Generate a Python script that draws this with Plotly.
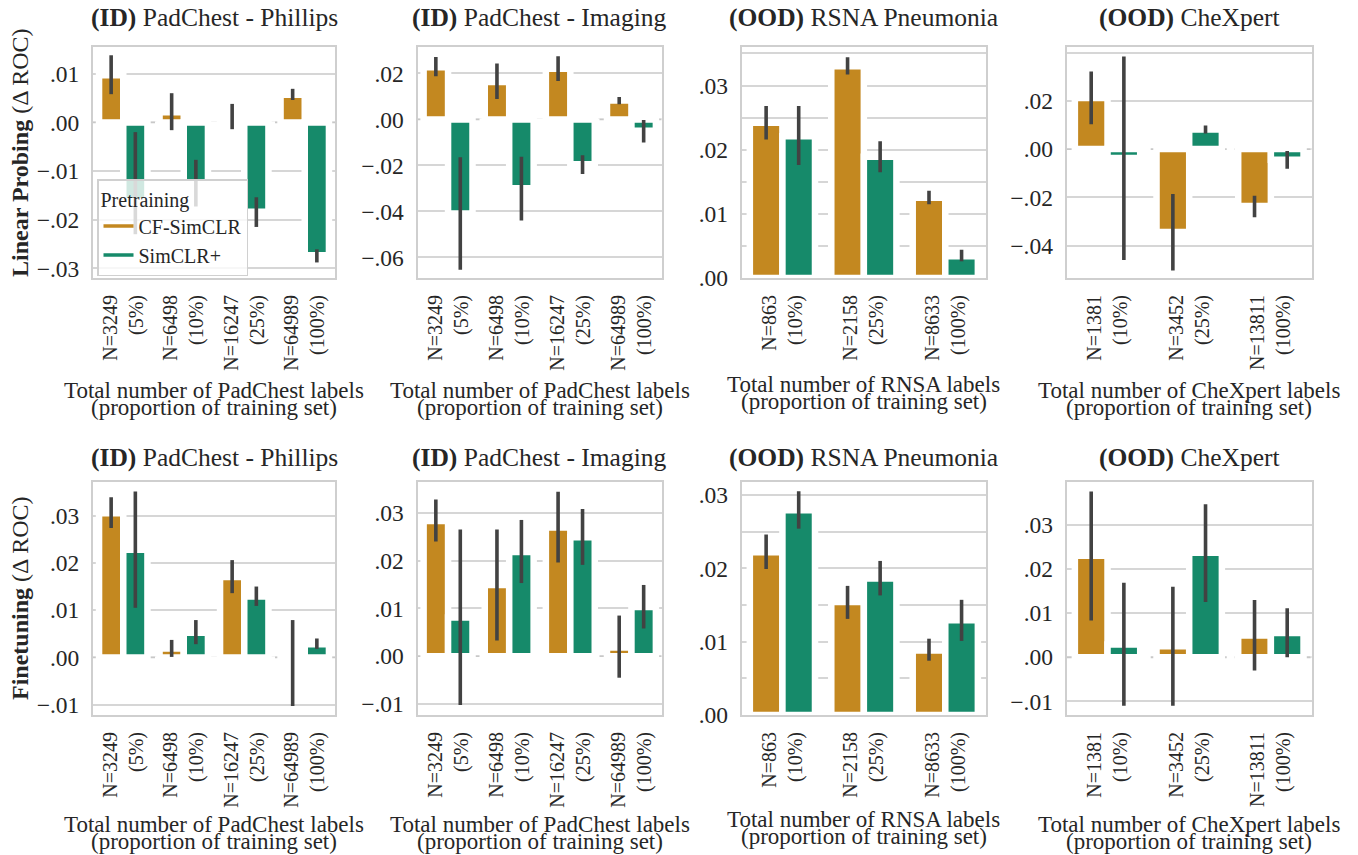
import plotly.graph_objects as go
from plotly.subplots import make_subplots

# ---- categories (x tick labels) ----
padchest_cats = ["N=3249<br>(5%)", "N=6498<br>(10%)", "N=16247<br>(25%)", "N=64989<br>(100%)"]
rsna_cats = ["N=863<br>(10%)", "N=2158<br>(25%)", "N=8633<br>(100%)"]
chexpert_cats = ["N=1381<br>(10%)", "N=3452<br>(25%)", "N=13811<br>(100%)"]

# ---- Linear probing: delta ROC (mean, CI high, CI low) ----
lp_phillips_cf = [0.0097, 0.0021, 0.0008, 0.0057]
lp_phillips_cf_hi = [0.0138, 0.0060, 0.0038, 0.0069]
lp_phillips_cf_lo = [0.0058, -0.0016, -0.0014, 0.0046]
lp_phillips_sim = [-0.0162, -0.0125, -0.0184, -0.0273]
lp_phillips_sim_hi = [-0.0020, -0.0077, -0.0154, -0.0261]
lp_phillips_sim_lo = [-0.0230, -0.0173, -0.0215, -0.0288]

lp_imaging_cf = [0.0227, 0.0163, 0.0220, 0.0082]
lp_imaging_cf_hi = [0.0272, 0.0243, 0.0275, 0.0098]
lp_imaging_cf_lo = [0.0188, 0.0089, 0.0167, 0.0066]
lp_imaging_sim = [-0.0409, -0.0299, -0.0195, -0.0049]
lp_imaging_sim_hi = [-0.0165, -0.0162, -0.0156, -0.0003]
lp_imaging_sim_lo = [-0.0654, -0.0440, -0.0237, -0.0101]

lp_rsna_cf = [0.0242, 0.0330, 0.0125]
lp_rsna_cf_hi = [0.0268, 0.0344, 0.0136]
lp_rsna_cf_lo = [0.0216, 0.0317, 0.0115]
lp_rsna_sim = [0.0221, 0.0189, 0.0034]
lp_rsna_sim_hi = [0.0268, 0.0213, 0.0044]
lp_rsna_sim_lo = [0.0176, 0.0165, 0.0026]

lp_chexpert_cf = [0.0212, -0.0343, -0.0236]
lp_chexpert_cf_hi = [0.0322, -0.0186, -0.0193]
lp_chexpert_cf_lo = [0.0103, -0.0503, -0.0282]
lp_chexpert_sim = [-0.0037, 0.0081, -0.0044]
lp_chexpert_sim_hi = [0.0384, 0.0098, -0.0008]
lp_chexpert_sim_lo = [-0.0459, 0.0065, -0.0081]

# ---- Finetuning: delta ROC (mean, CI high, CI low) ----
ft_phillips_cf = [0.0305, 0.0019, 0.0170, -0.0010]
ft_phillips_cf_hi = [0.0339, 0.0037, 0.0206, 0.0079]
ft_phillips_cf_lo = [0.0274, 0.0001, 0.0136, -0.0103]
ft_phillips_sim = [0.0228, 0.0052, 0.0129, 0.0028]
ft_phillips_sim_hi = [0.0351, 0.0079, 0.0150, 0.0040]
ft_phillips_sim_lo = [0.0105, 0.0028, 0.0109, 0.0018]

ft_imaging_cf = [0.0283, 0.0149, 0.0269, 0.0018]
ft_imaging_cf_hi = [0.0328, 0.0265, 0.0344, 0.0085]
ft_imaging_cf_lo = [0.0240, 0.0033, 0.0196, -0.0045]
ft_imaging_sim = [0.0081, 0.0218, 0.0249, 0.0103]
ft_imaging_sim_hi = [0.0265, 0.0285, 0.0308, 0.0149]
ft_imaging_sim_lo = [-0.0102, 0.0153, 0.0191, 0.0058]

ft_rsna_cf = [0.0222, 0.0154, 0.0088]
ft_rsna_cf_hi = [0.0246, 0.0176, 0.0104]
ft_rsna_cf_lo = [0.0199, 0.0131, 0.0074]
ft_rsna_sim = [0.0279, 0.0186, 0.0129]
ft_rsna_sim_hi = [0.0305, 0.0210, 0.0157]
ft_rsna_sim_lo = [0.0254, 0.0163, 0.0101]

ft_chexpert_cf = [0.0230, 0.0025, 0.0049]
ft_chexpert_cf_hi = [0.0376, 0.0160, 0.0130]
ft_chexpert_cf_lo = [0.0083, -0.0110, -0.0030]
ft_chexpert_sim = [0.0029, 0.0237, 0.0055]
ft_chexpert_sim_hi = [0.0169, 0.0347, 0.0111]
ft_chexpert_sim_lo = [-0.0110, 0.0125, 0.0000]

# ---- y tick values / labels per panel ----
ticks_lp_phillips = [-0.03, -0.02, -0.01, 0.0, 0.01]
labels_lp_phillips = ["\u2212.03", "\u2212.02", "\u2212.01", ".00", ".01"]
ticks_lp_imaging = [-0.06, -0.04, -0.02, 0.0, 0.02]
labels_lp_imaging = ["\u2212.06", "\u2212.04", "\u2212.02", ".00", ".02"]
ticks_lp_rsna = [0.0, 0.005, 0.01, 0.015, 0.02, 0.025, 0.03, 0.035]
labels_lp_rsna = [".00", "", ".01", "", ".02", "", ".03", ""]
ticks_lp_chexpert = [-0.04, -0.02, 0.0, 0.02, 0.04]
labels_lp_chexpert = ["\u2212.04", "\u2212.02", ".00", ".02", ""]
ticks_ft_phillips = [-0.01, 0.0, 0.01, 0.02, 0.03]
labels_ft_phillips = ["\u2212.01", ".00", ".01", ".02", ".03"]
ticks_ft_imaging = [-0.01, 0.0, 0.01, 0.02, 0.03]
labels_ft_imaging = ["\u2212.01", ".00", ".01", ".02", ".03"]
ticks_ft_rsna = [0.0, 0.005, 0.01, 0.015, 0.02, 0.025, 0.03]
labels_ft_rsna = [".00", "", ".01", "", ".02", "", ".03"]
ticks_ft_chexpert = [-0.01, 0.0, 0.01, 0.02, 0.03]
labels_ft_chexpert = ["\u2212.01", ".00", ".01", ".02", ".03"]

titles = [
    "<b>(ID)</b> PadChest - Phillips",
    "<b>(ID)</b> PadChest - Imaging",
    "<b>(OOD)</b> RSNA Pneumonia",
    "<b>(OOD)</b> CheXpert",
]
xlabel_line1 = [
    "Total number of PadChest labels",
    "Total number of PadChest labels",
    "Total number of RNSA labels",
    "Total number of CheXpert labels",
]
xlabel_line2 = "(proportion of training set)"
row_titles = ["<b>Linear Probing</b> (\u0394 ROC)", "<b>Finetuning</b> (\u0394 ROC)"]

ORANGE = "#c38820"
GREEN = "#168a6a"
ERR = "#424242"
FONT = "Liberation Serif"
TXT = "#262626"
W, H = 1358, 855

panels = [
    # row, col, categories, cf, cf_hi, cf_lo, sim, sim_hi, sim_lo, yrange, tickvals, ticktext
    (1, 1, padchest_cats, lp_phillips_cf, lp_phillips_cf_hi, lp_phillips_cf_lo,
     lp_phillips_sim, lp_phillips_sim_hi, lp_phillips_sim_lo, [-0.0320, 0.0155],
     ticks_lp_phillips, labels_lp_phillips),
    (1, 2, padchest_cats, lp_imaging_cf, lp_imaging_cf_hi, lp_imaging_cf_lo,
     lp_imaging_sim, lp_imaging_sim_hi, lp_imaging_sim_lo, [-0.069, 0.0315],
     ticks_lp_imaging, labels_lp_imaging),
    (1, 3, rsna_cats, lp_rsna_cf, lp_rsna_cf_hi, lp_rsna_cf_lo,
     lp_rsna_sim, lp_rsna_sim_hi, lp_rsna_sim_lo, [0.0, 0.036],
     ticks_lp_rsna, labels_lp_rsna),
    (1, 4, chexpert_cats, lp_chexpert_cf, lp_chexpert_cf_hi, lp_chexpert_cf_lo,
     lp_chexpert_sim, lp_chexpert_sim_hi, lp_chexpert_sim_lo, [-0.0534, 0.0423],
     ticks_lp_chexpert, labels_lp_chexpert),
    (2, 1, padchest_cats, ft_phillips_cf, ft_phillips_cf_hi, ft_phillips_cf_lo,
     ft_phillips_sim, ft_phillips_sim_hi, ft_phillips_sim_lo, [-0.0122, 0.0372],
     ticks_ft_phillips, labels_ft_phillips),
    (2, 2, padchest_cats, ft_imaging_cf, ft_imaging_cf_hi, ft_imaging_cf_lo,
     ft_imaging_sim, ft_imaging_sim_hi, ft_imaging_sim_lo, [-0.0123, 0.0365],
     ticks_ft_imaging, labels_ft_imaging),
    (2, 3, rsna_cats, ft_rsna_cf, ft_rsna_cf_hi, ft_rsna_cf_lo,
     ft_rsna_sim, ft_rsna_sim_hi, ft_rsna_sim_lo, [0.0, 0.0318],
     ticks_ft_rsna, labels_ft_rsna),
    (2, 4, chexpert_cats, ft_chexpert_cf, ft_chexpert_cf_hi, ft_chexpert_cf_lo,
     ft_chexpert_sim, ft_chexpert_sim_hi, ft_chexpert_sim_lo, [-0.0131, 0.0398],
     ticks_ft_chexpert, labels_ft_chexpert),
]

# axes boxes in pixels
col_px = [(93, 335), (417.5, 662), (741.7, 986), (1066.7, 1311.7)]
row_px = [(47, 278), (481.7, 715)]

fig = make_subplots(rows=2, cols=4)


def err(vals, hi, lo):
    return dict(
        type="data", symmetric=False,
        array=[h - v for v, h in zip(vals, hi)],
        arrayminus=[v - l for v, l in zip(vals, lo)],
        color=ERR, thickness=3.6, width=0,
    )


for (r, c, cats, cf, cf_hi, cf_lo, sim, sim_hi, sim_lo, yr, tv, tt) in panels:
    fig.add_trace(go.Bar(x=cats, y=cf, marker=dict(color=ORANGE, line=dict(color="white", width=6.5)),
                         error_y=err(cf, cf_hi, cf_lo), showlegend=False, name="CF-SimCLR"),
                  row=r, col=c)
    fig.add_trace(go.Bar(x=cats, y=sim, marker=dict(color=GREEN, line=dict(color="white", width=6.5)),
                         error_y=err(sim, sim_hi, sim_lo), showlegend=False, name="SimCLR+"),
                  row=r, col=c)
    x0, x1 = col_px[c - 1]
    y0, y1 = row_px[r - 1]
    fig.update_xaxes(domain=[x0 / W, x1 / W], range=[-0.5, len(cats) - 0.5], automargin=False,
                     showgrid=False, showline=True, mirror=True, linecolor="#cfcfcf", linewidth=2,
                     tickangle=-90, ticks="outside", ticklen=7, tickcolor="rgba(0,0,0,0)",
                     tickfont=dict(family=FONT, size=20, color=TXT), row=r, col=c)
    fig.update_yaxes(domain=[1 - y1 / H, 1 - y0 / H], range=yr, tickvals=tv, ticktext=tt, automargin=False,
                     showgrid=True, gridcolor="#d6d6d6", gridwidth=1.5, zeroline=False,
                     showline=True, mirror=True, linecolor="#cfcfcf", linewidth=2,
                     ticks="outside", ticklen=7, tickcolor="rgba(0,0,0,0)",
                     tickfont=dict(family=FONT, size=23.5, color=TXT), row=r, col=c)
    # dashed reference line at zero (white line first hides the solid grid line)
    if yr[0] < 0:
        idx = (r - 1) * 4 + c
        xref = "x" if idx == 1 else f"x{idx}"
        yref = "y" if idx == 1 else f"y{idx}"
        fig.add_shape(type="line", xref=xref, yref=yref, x0=-0.5, x1=len(cats) - 0.5, y0=0, y1=0,
                      line=dict(color="white", width=2.5), layer="between")
        fig.add_shape(type="line", xref=xref, yref=yref, x0=-0.5, x1=len(cats) - 0.5, y0=0, y1=0,
                      line=dict(color="#c8c8c8", width=1.8, dash="6px,8px"), layer="between")

# legend entries
fig.add_trace(go.Scatter(x=[None], y=[None], mode="lines", line=dict(color=ORANGE, width=3.5),
                         name="CF-SimCLR", showlegend=True), row=1, col=1)
fig.add_trace(go.Scatter(x=[None], y=[None], mode="lines", line=dict(color=GREEN, width=3.5),
                         name="SimCLR+", showlegend=True), row=1, col=1)

annotations = []
title_off = [29, 24]
xlab_y = [[390, 390, 384, 390], [824, 824, 819, 824]]
for r in range(2):
    y0, y1 = row_px[r]
    for c in range(4):
        x0, x1 = col_px[c]
        xc = (x0 + x1) / 2 / W
        annotations.append(dict(text=titles[c], x=xc, y=1 - (y0 - title_off[r]) / H, xref="paper", yref="paper",
                                xanchor="center", yanchor="middle", showarrow=False,
                                font=dict(family=FONT, size=25.5, color=TXT)))
        base = xlab_y[r][c]
        annotations.append(dict(text=xlabel_line1[c], x=xc, y=1 - base / H, xref="paper", yref="paper",
                                xanchor="center", yanchor="middle", showarrow=False,
                                font=dict(family=FONT, size=23, color=TXT)))
        annotations.append(dict(text=xlabel_line2, x=xc, y=1 - (base + 17) / H, xref="paper", yref="paper",
                                xanchor="center", yanchor="middle", showarrow=False,
                                font=dict(family=FONT, size=23, color=TXT)))
row_title_y = [153, 599]
for r in range(2):
    annotations.append(dict(text=row_titles[r], x=20 / W, y=1 - row_title_y[r] / H, xref="paper", yref="paper",
                            xanchor="center", yanchor="middle", textangle=-90, showarrow=False,
                            font=dict(family=FONT, size=24, color=TXT)))

fig.update_layout(
    width=W, height=H,
    margin=dict(l=0, r=0, t=0, b=0, autoexpand=False),
    paper_bgcolor="white", plot_bgcolor="white",
    barmode="group", bargap=0.2, bargroupgap=0.0,
    font=dict(family=FONT, color=TXT),
    annotations=annotations,
    legend=dict(
        x=97 / W, y=1 - 276 / H, xanchor="left", yanchor="bottom",
        bgcolor="rgba(255,255,255,0.8)", bordercolor="#d0d0d0", borderwidth=1.5,
        title=dict(text="Pretraining", font=dict(family=FONT, size=20, color=TXT)),
        font=dict(family=FONT, size=20, color=TXT),
        tracegroupgap=0, itemwidth=30,
    ),
)

fig.write_html("out.html")
